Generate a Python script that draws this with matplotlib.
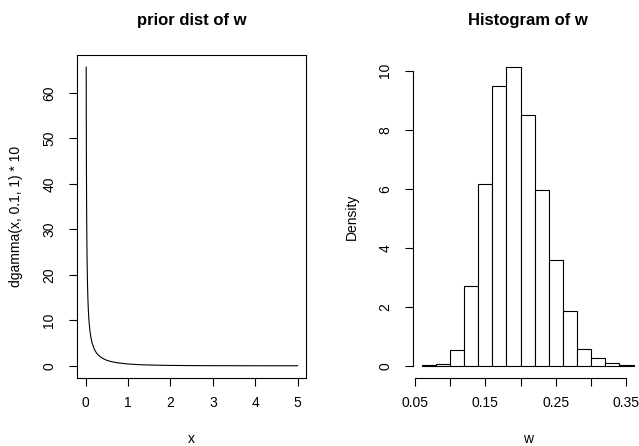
import matplotlib
matplotlib.use("Agg")
import matplotlib.pyplot as plt
import numpy as np

plt.rcParams['font.family'] = ['Liberation Sans', 'DejaVu Sans']

# Left panel: prior curve
curve_x = [0.01, 0.012, 0.015, 0.02, 0.025, 0.03, 0.04, 0.05, 0.06, 0.07, 0.08, 0.1,
           0.12, 0.15, 0.2, 0.25, 0.3, 0.4, 0.5, 0.6, 0.75, 1, 1.25, 1.5, 2, 2.5,
           3, 3.5, 4, 4.5, 5]
curve_y = [65.66, 55.6, 45.4, 34.8, 28.4, 23.9, 18.3, 14.8, 12.45, 10.7, 9.42, 7.55,
           6.28, 4.99, 3.66, 2.85, 2.30, 1.61, 1.19, 0.914, 0.643, 0.387, 0.246, 0.163,
           0.0762, 0.0378, 0.0195, 0.0103, 0.0055, 0.0030, 0.0017]
left_xticks = [0, 1, 2, 3, 4, 5]
left_yticks = [0, 10, 20, 30, 40, 50, 60]

# Right panel: histogram of w
bin_edges = [0.06, 0.08, 0.10, 0.12, 0.14, 0.16, 0.18, 0.20, 0.22, 0.24, 0.26,
             0.28, 0.30, 0.32, 0.34, 0.36]
densities = [0.015, 0.07, 0.52, 2.69, 6.16, 9.48, 10.12, 8.50, 5.95, 3.57, 1.86,
             0.58, 0.25, 0.11, 0.035]
hist_xticks = [0.05, 0.10, 0.15, 0.20, 0.25, 0.30, 0.35]
hist_xlabels = ['0.05', '', '0.15', '', '0.25', '', '0.35']
hist_yticks = [0, 2, 4, 6, 8, 10]

W, H = 639, 446
fig = plt.figure(figsize=(W / 100, H / 100), dpi=100)

def frac(left, top, right, bottom):
    return [left / W, 1 - bottom / H, (right - left) / W, (bottom - top) / H]

fs_tick = 10
fs_title = 12
AX_W = 228.7

# ---------- Left ----------
ax1 = fig.add_axes(frac(77.3, 55.3, 306.0, 377.7))
ax1.plot(curve_x, curve_y, color='black', lw=0.8)
ymin, ymax = min(curve_y), max(curve_y)
pad = 0.04 * (ymax - ymin)
ax1.set_ylim(ymin - pad, ymax + pad)
ax1.set_xlim(-0.2, 5.2)
ax1.set_xticks(left_xticks)
ax1.set_yticks(left_yticks)
ax1.set_yticklabels([str(v) for v in left_yticks], rotation=90, va='center')
for s in ax1.spines.values():
    s.set_linewidth(0.8)
ax1.tick_params(length=6, width=0.8, labelsize=fs_tick)
ax1.tick_params(axis='x', pad=7)
ax1.tick_params(axis='y', pad=9)
ax1.set_xlabel('x', fontsize=fs_tick)
ax1.xaxis.set_label_coords(0.5, -0.168)
ax1.set_ylabel('dgamma(x, 0.1, 1) * 10', fontsize=fs_tick)
ax1.yaxis.set_label_coords((23 - 77.3) / AX_W, 0.5)
fig.text((77.3 + 306.0) / 2 / W, 1 - 20.7 / H, 'prior dist of w', fontsize=fs_title,
         fontweight='bold', ha='center', va='center')

# ---------- Right ----------
ax2 = fig.add_axes(frac(413.3, 55.3, 642.0, 377.7))
widths = np.diff(bin_edges)
ax2.bar(bin_edges[:-1], densities, width=widths, align='edge', color='white',
        edgecolor='black', linewidth=0.8)
xr = bin_edges[-1] - bin_edges[0]
ax2.set_xlim(bin_edges[0] - 0.04 * xr, bin_edges[-1] + 0.04 * xr)
dmax = max(densities)
ax2.set_ylim(-0.04 * dmax, dmax * 1.04)
for k in ['top', 'right']:
    ax2.spines[k].set_visible(False)
ax2.spines['left'].set_bounds(0, 10)
ax2.spines['bottom'].set_bounds(0.05, 0.35)
ax2.spines['left'].set_linewidth(0.8)
ax2.spines['bottom'].set_linewidth(0.8)
ax2.set_xticks(hist_xticks)
ax2.set_xticklabels(hist_xlabels)
ax2.set_yticks(hist_yticks)
ax2.set_yticklabels([str(v) for v in hist_yticks], rotation=90, va='center')
ax2.tick_params(length=6, width=0.8, labelsize=fs_tick)
ax2.tick_params(axis='x', pad=7)
ax2.tick_params(axis='y', pad=9)
ax2.set_xlabel('w', fontsize=fs_tick)
ax2.xaxis.set_label_coords(0.5, -0.168)
ax2.set_ylabel('Density', fontsize=fs_tick)
ax2.yaxis.set_label_coords((358.5 - 413.3) / AX_W, 0.5)
fig.text((413.3 + 642.0) / 2 / W, 1 - 20.7 / H, 'Histogram of w', fontsize=fs_title,
         fontweight='bold', ha='center', va='center')

fig.savefig('out.png', dpi=100)
